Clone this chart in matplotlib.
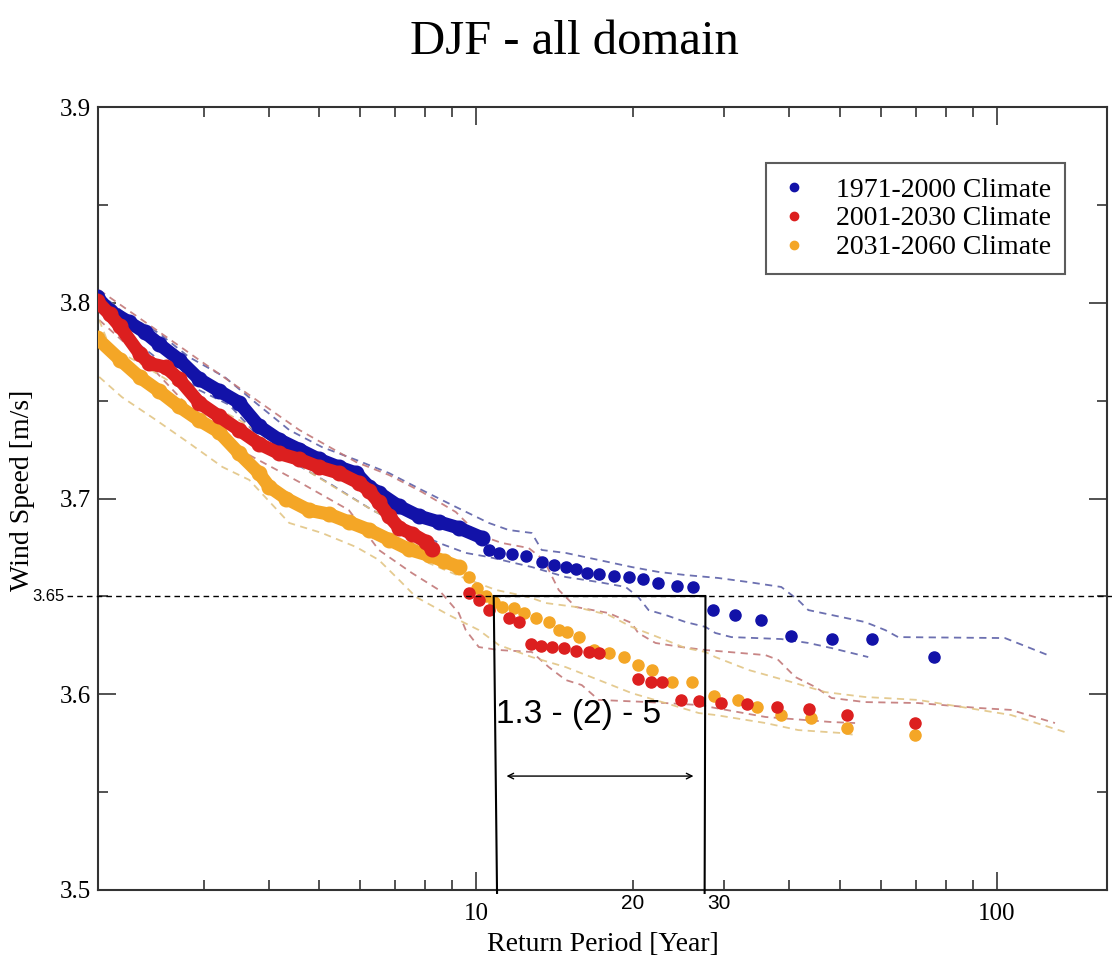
import matplotlib.pyplot as plt
from matplotlib.ticker import FixedLocator, NullFormatter

plt.rcParams['font.family'] = ['Liberation Serif', 'DejaVu Serif']

# ---- data (return period [yr], wind speed [m/s]) ----
# 1971-2000 climate
blue_dense_T = [1.87, 1.98, 2.16, 2.31, 2.46, 2.69, 2.94, 3.21, 3.51, 3.83, 4.19,
                4.58, 5.00, 5.46, 5.89, 6.23, 6.51, 7.12, 7.77, 8.49, 9.27, 10.26]
blue_dense_ws = [3.803, 3.796, 3.790, 3.785, 3.779, 3.771, 3.761, 3.755, 3.749, 3.737, 3.730,
                 3.725, 3.720, 3.716, 3.713, 3.706, 3.703, 3.696, 3.691, 3.688, 3.685, 3.680]
blue_T = [10.59, 11.06, 11.72, 12.46, 13.38, 14.11, 14.87, 15.55, 16.32, 17.21, 18.39, 19.65,
          20.98, 22.4, 24.29, 26.17, 28.6, 31.5, 35.3, 40.3, 48.4, 57.7, 75.9]
blue_ws = [3.6737, 3.6722, 3.6716, 3.6706, 3.6676, 3.666, 3.665, 3.664, 3.662, 3.6614, 3.6604, 3.660,
           3.659, 3.657, 3.6553, 3.6548, 3.643, 3.6405, 3.638, 3.6298, 3.6282, 3.6282, 3.619]

# 2001-2030 climate
red_dense_T = [1.87, 1.98, 2.07, 2.26, 2.36, 2.54, 2.69, 2.94, 3.21, 3.51, 3.83, 4.19,
               4.58, 5.00, 5.46, 5.96, 6.23, 6.51, 6.81, 7.12, 7.54, 8.01, 8.23]
red_dense_ws = [3.801, 3.794, 3.788, 3.774, 3.769, 3.767, 3.761, 3.749, 3.742, 3.735, 3.728, 3.723,
                3.720, 3.716, 3.713, 3.708, 3.704, 3.698, 3.691, 3.685, 3.682, 3.678, 3.674]
red_T = [9.69, 10.13, 10.59, 11.56, 12.09, 12.74, 13.32, 13.98, 14.74, 15.55, 16.47, 17.21,
         20.5, 21.65, 22.73, 24.72, 26.8, 29.5, 33.2, 37.8, 43.7, 51.7, 69.8]
red_ws = [3.6517, 3.6481, 3.643, 3.639, 3.6369, 3.6257, 3.6246, 3.6241, 3.6236, 3.6221, 3.6216, 3.6211,
          3.6078, 3.6063, 3.6063, 3.5971, 3.5966, 3.5955, 3.595, 3.5935, 3.5925, 3.5894, 3.5853]

# 2031-2060 climate
orange_dense_T = [1.87, 2.07, 2.26, 2.46, 2.69, 2.94, 3.21, 3.51, 3.83, 4.01,
                  4.32, 4.78, 5.22, 5.70, 6.23, 6.81, 7.44, 8.12, 8.68, 9.27]
orange_dense_ws = [3.782, 3.771, 3.762, 3.755, 3.747, 3.740, 3.734, 3.723, 3.713, 3.706,
                   3.700, 3.694, 3.692, 3.688, 3.684, 3.679, 3.674, 3.671, 3.668, 3.665]
orange_T = [9.69, 10.04, 10.45, 10.82, 11.21, 11.82, 12.36, 13.03, 13.80, 14.42, 14.94, 15.75, 16.83,
            17.98, 19.22, 20.44, 21.75, 23.76, 25.96, 28.72, 31.9, 34.73, 38.6, 44.1, 51.7, 69.8]
orange_ws = [3.6599, 3.6543, 3.6502, 3.6471, 3.6446, 3.6441, 3.6415, 3.639, 3.6369, 3.6328, 3.6318,
             3.6292, 3.6226, 3.6211, 3.619, 3.6149, 3.6124, 3.6063, 3.6063, 3.5991, 3.5971, 3.5935,
             3.5894, 3.5879, 3.5828, 3.5792]

# confidence bounds (dashed)
blue_up_T = [1.89, 2.11, 2.46, 2.81, 3.29, 3.78, 4.38, 5.06, 5.89, 6.81, 7.88, 9.15, 10.59, 11.56,
             12.80, 13.38, 14.87, 17.21, 19.91, 22.4, 25.27, 29.2, 33.4, 38.6, 41.6, 43.5, 48.2,
             55.9, 61.1, 64.7, 103.8, 125.5]
blue_up_ws = [3.805, 3.7948, 3.7845, 3.7723, 3.7621, 3.7488, 3.735, 3.7263, 3.7197, 3.713, 3.7043,
              3.6957, 3.6875, 3.6839, 3.6824, 3.6737, 3.6722, 3.6686, 3.665, 3.6625, 3.6609, 3.6594,
              3.6573, 3.6548, 3.6481, 3.643, 3.6405, 3.6369, 3.6328, 3.6292, 3.6287, 3.62]
blue_lo_T = [1.89, 2.26, 2.61, 2.94, 3.36, 3.83, 4.38, 5.29, 6.32, 7.34, 8.49, 9.56, 10.59, 12.80,
             14.87, 17.21, 19.39, 20.5, 21.46, 23.13, 25.27, 27.6, 28.84, 30.95, 38.6, 43.5, 48.2, 56.7]
blue_lo_ws = [3.7953, 3.7785, 3.7656, 3.7554, 3.7478, 3.7314, 3.7197, 3.7069, 3.6941, 3.6854, 3.6773,
              3.6722, 3.6701, 3.665, 3.6599, 3.6573, 3.6548, 3.6497, 3.643, 3.6405, 3.6369, 3.6344,
              3.6313, 3.6292, 3.6282, 3.6262, 3.6236, 3.619]
red_up_T = [1.89, 2.36, 2.94, 3.67, 4.58, 5.89, 6.81, 7.88, 9.15, 10.13, 11.21, 12.63, 13.50, 14.42,
            15.55, 17.98, 19.91, 20.5, 22.13, 24.83, 27.6, 35.98, 38.1, 41.07, 44.87, 48.2, 55.9,
            70.7, 92.2, 106.6, 129.5]
red_up_ws = [3.8065, 3.7886, 3.7708, 3.7529, 3.735, 3.7186, 3.712, 3.7033, 3.6931, 3.6814, 3.6773,
             3.6747, 3.6686, 3.6533, 3.6446, 3.6415, 3.6364, 3.6313, 3.6262, 3.6241, 3.6226, 3.62,
             3.6175, 3.6088, 3.6037, 3.5981, 3.596, 3.5955, 3.593, 3.592, 3.5853]
red_lo_T = [1.89, 2.36, 2.94, 3.67, 4.58, 5.70, 6.51, 7.54, 8.49, 9.27, 9.56, 10.13, 11.06, 12.80,
            13.80, 14.87, 15.97, 17.21, 21.46, 26.8, 35.98, 48.2, 53.5]
red_lo_ws = [3.7912, 3.7682, 3.7411, 3.7222, 3.7084, 3.6941, 3.6737, 3.6619, 3.6533, 3.6415, 3.6328,
             3.6241, 3.6226, 3.6216, 3.6139, 3.6073, 3.6047, 3.5971, 3.596, 3.5945, 3.5884, 3.5858,
             3.5853]
orange_up_T = [1.89, 1.98, 2.26, 2.61, 3.03, 3.51, 4.06, 4.72, 5.46, 6.32, 7.34, 8.12, 9.39, 10.92,
               12.63, 13.62, 15.55, 17.98, 19.91, 23.13, 25.27, 27.6, 28.84, 33.4, 40.3, 46.9, 55.9,
               70.7, 106.6, 137.1]
orange_up_ws = [3.7912, 3.7774, 3.7692, 3.759, 3.7488, 3.7401, 3.7299, 3.7146, 3.7043, 3.6941,
                3.6854, 3.667, 3.6599, 3.6533, 3.6497, 3.6466, 3.6446, 3.6405, 3.6344, 3.6277,
                3.6236, 3.6216, 3.619, 3.6124, 3.6063, 3.6011, 3.5986, 3.5971, 3.5894, 3.5802]
orange_lo_T = [1.89, 2.09, 2.43, 2.81, 3.26, 3.67, 4.38, 5.06, 5.89, 6.51, 7.12, 7.67, 8.87, 10.13,
               11.06, 12.80, 14.87, 17.21, 19.91, 23.13, 26.8, 28.84, 35.98, 41.6, 50.3, 53.5]
orange_lo_ws = [3.7621, 3.7518, 3.7401, 3.7284, 3.7161, 3.7095, 3.6875, 3.6824, 3.6752, 3.6686,
                3.6584, 3.6497, 3.6405, 3.6328, 3.6252, 3.619, 3.6139, 3.6073, 3.6006, 3.5955,
                3.5904, 3.5894, 3.5853, 3.5817, 3.5802, 3.5792]

labels = ['1971-2000 Climate', '2001-2030 Climate', '2031-2060 Climate']
BLUE, RED, ORANGE = '#1212a8', '#dc1f1f', '#f4a626'
BLUE_D, RED_D, ORANGE_D = '#5c60a8', '#c27878', '#e2c585'

fig = plt.figure(figsize=(11.12, 9.67), dpi=100)
ax = fig.add_axes([98 / 1112, 77 / 967, 1009 / 1112, 783 / 967])
ax.set_xscale('log')
ax.set_xlim(1.88, 163)
ax.set_ylim(3.5, 3.9)

# dashed bounds
for T, ws, c in [(blue_up_T, blue_up_ws, BLUE_D), (blue_lo_T, blue_lo_ws, BLUE_D),
                 (red_up_T, red_up_ws, RED_D), (red_lo_T, red_lo_ws, RED_D),
                 (orange_up_T, orange_up_ws, ORANGE_D), (orange_lo_T, orange_lo_ws, ORANGE_D)]:
    ax.plot(T, ws, color=c, lw=1.3, dashes=(4, 3), alpha=0.9, zorder=2)

# dense parts drawn as overlapping dots
dense = dict(lw=9.5, ms=10.5, solid_joinstyle='round', solid_capstyle='round')
ax.plot(orange_dense_T, orange_dense_ws, '-o', color=ORANGE, zorder=3, **dense)
ax.plot(blue_dense_T, blue_dense_ws, '-o', color=BLUE, zorder=4, **dense)
ax.plot(red_dense_T, red_dense_ws, '-o', color=RED, zorder=5, **dense)

hb, = ax.plot(blue_T, blue_ws, 'o', color=BLUE, ms=8, zorder=4)
ho, = ax.plot(orange_T, orange_ws, 'o', color=ORANGE, ms=8, zorder=4)
hr, = ax.plot(red_T, red_ws, 'o', color=RED, ms=8, zorder=5)

leg = ax.legend([hb, hr, ho], labels, loc='upper right', bbox_to_anchor=(0.958, 0.928),
                fontsize=20, markerscale=0.75, handlelength=1.0, handletextpad=1.0,
                borderpad=0.5, labelspacing=0.12, borderaxespad=0, fancybox=False)
leg.get_frame().set_edgecolor('#333333')
leg.get_frame().set_linewidth(1.5)

# axes styling
for s in ax.spines.values():
    s.set_linewidth(1.5)
    s.set_color('#333333')
ax.set_yticks([3.5, 3.6, 3.7, 3.8, 3.9])
ax.set_yticklabels(['3.5', '3.6', '3.7', '3.8', '3.9'])
ax.yaxis.set_minor_locator(FixedLocator([3.55, 3.65, 3.75, 3.85]))
ax.set_xticks([10, 100])
ax.set_xticklabels(['10', '100'])
ax.xaxis.set_minor_locator(FixedLocator([3, 4, 5, 6, 7, 8, 9, 20, 30, 40, 50, 60, 70, 80, 90]))
ax.xaxis.set_minor_formatter(NullFormatter())
ax.tick_params(which='both', direction='in', top=True, right=True, labelsize=18,
               color='#444444', width=1.3)
ax.tick_params(which='major', length=13)
ax.tick_params(which='minor', length=7)
ax.tick_params(axis='x', pad=9)
ax.tick_params(axis='y', pad=5)

ax.set_xlabel('Return Period [Year]', fontsize=20)
ax.set_ylabel('Wind Speed [m/s]', fontsize=20)
ax.xaxis.set_label_coords(0.5, -0.054)
ax.yaxis.set_label_coords(-0.062, 0.51)
fig.text(0.517, 0.957, 'DJF - all domain', fontsize=35, ha='center', va='center')

# annotations
sans = ['Liberation Sans', 'DejaVu Sans']
yax = ax.get_yaxis_transform()
xax = ax.get_xaxis_transform()
ax.plot([-0.031, 1.01], [3.65, 3.65], transform=yax, color='black', lw=1.0,
        dashes=(4, 3), clip_on=False, zorder=6)
ax.text(-0.0335, 3.65, '3.65', transform=yax, fontsize=12, family=sans,
        ha='right', va='center')
ax.plot([10.82, 10.98], [3.65, 3.4985], color='black', lw=1.5, clip_on=False, zorder=6)
ax.plot([27.6, 27.5], [3.65, 3.4985], color='black', lw=1.5, clip_on=False, zorder=6)
ax.plot([10.82, 27.6], [3.65, 3.65], color='black', lw=1.5, zorder=6)
ax.text(10.92, 3.5894, '1.3 - (2) - 5', fontsize=24, family=sans, ha='left', va='center')
ax.annotate('', xy=(26.5, 3.5582), xytext=(11.31, 3.5582),
            arrowprops=dict(arrowstyle='<->', color='black', lw=1.0, mutation_scale=10))
ax.text(20, -0.017, '20', transform=xax, fontsize=15, family=sans, ha='center', va='center')
ax.text(29.3, -0.017, '30', transform=xax, fontsize=15, family=sans, ha='center', va='center')

fig.savefig('out.png', dpi=100, facecolor='white')
